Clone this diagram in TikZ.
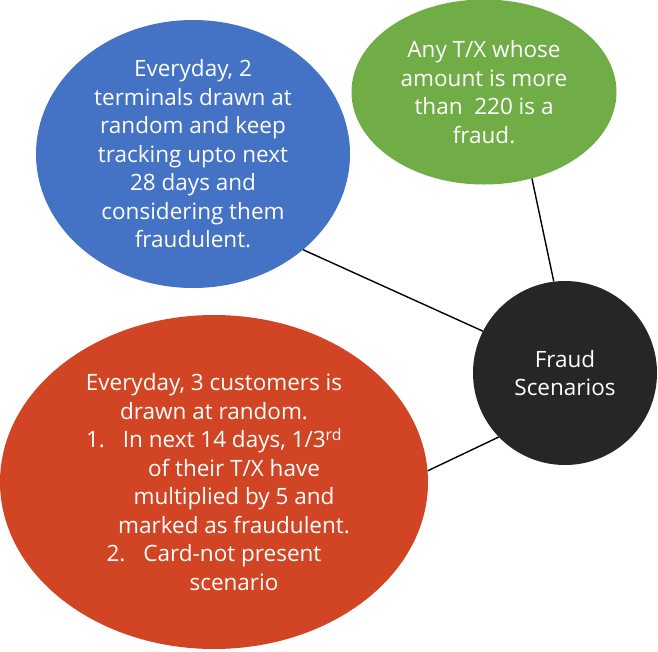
\documentclass[tikz,border=0pt]{standalone}
\usepackage{fontspec}
\setmainfont{Open Sans}
\usetikzlibrary{shapes.geometric}
\definecolor{terminalfill}{HTML}{4472C4}
\definecolor{amountfill}{HTML}{70AD47}
\definecolor{customerfill}{HTML}{D14524}
\definecolor{hubfill}{HTML}{262626}

\begin{document}
\begin{tikzpicture}[x=1pt,y=-1pt,
  font=\fontsize{22.5}{28.5}\selectfont, text=white,
  bubble/.style={ellipse,draw=none,inner sep=0pt,align=center},
  hub/.style={circle,draw=none,fill=hubfill,inner sep=0pt,align=center,minimum size=184pt},
  spoke/.style={draw=black,line width=1.4pt}
]
\useasboundingbox (0,0) rectangle (658,651);
% The three scenarios round the central hub.
\node[bubble,fill=terminalfill,minimum width=314pt,minimum height=268pt] (terminal) at (193,154)
  {Everyday, 2\\terminals drawn at\\random and keep\\tracking upto next\\28 days and\\considering them\\fraudulent.};
\node[bubble,fill=amountfill,minimum width=265pt,minimum height=185pt] (amount) at (484,92)
  {Any T/X whose\\amount is more\\than~~220 is a\\fraud.};
\node[bubble,fill=customerfill,minimum width=428pt,minimum height=334pt] (customer) at (214,482)
  {Everyday, 3 customers is\\drawn at random.\\
   1.\hspace{0.8em}In next 14 days, 1/3\textsuperscript{rd}\\
   \hspace*{40pt}of their T/X have\\
   \hspace*{40pt}multiplied by 5 and\\
   \hspace*{40pt}marked as fraudulent.\\
   2.\hspace{0.8em}Card-not present\\
   \hspace*{40pt}scenario};
\node[hub] (scenarios) at (565,373) {Fraud\\Scenarios};
% Spokes to the hub.
\draw[spoke] (terminal.-41) -- (scenarios.153);
\draw[spoke] (amount.-61) -- (scenarios.97);
\draw[spoke] (customer.3) -- (scenarios.224);
\end{tikzpicture}
\end{document}
